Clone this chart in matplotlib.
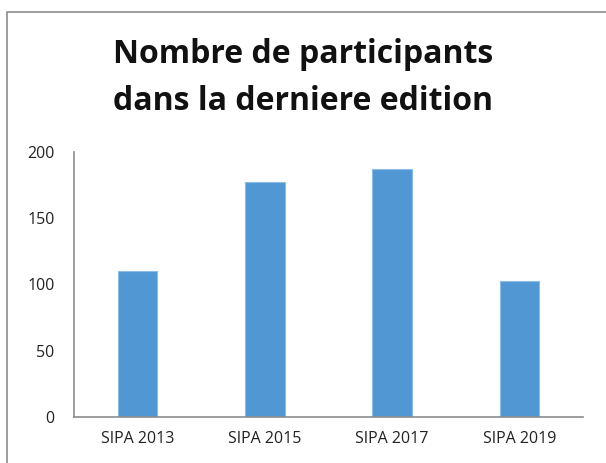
import numpy as np
import matplotlib.pyplot as plt
from matplotlib.patches import Rectangle

editions = ['SIPA 2013', 'SIPA 2015', 'SIPA 2017', 'SIPA 2019']
participants = [110, 177, 187, 103]
yticks = [0, 50, 100, 150, 200]

plt.rcParams['font.family'] = ['Open Sans', 'DejaVu Sans']

fig = plt.figure(figsize=(6.06, 4.63), dpi=100)
ax = fig.add_axes([74/606, 1-417/463, 509/606, 265/463])

x = np.arange(len(editions))
ax.bar(x, participants, width=0.31, color='#5097d3', edgecolor='#8dbde6', linewidth=0.8)
ax.set_xlim(-0.5, len(editions) - 0.5)
ax.set_ylim(0, 200)
ax.set_yticks(yticks)
ax.set_xticks(x)
ax.set_xticklabels(editions)
ax.tick_params(length=0, labelsize=11.5, colors='#222222')
ax.tick_params(axis='x', pad=10)
ax.tick_params(axis='y', pad=14)
for s in ['top', 'right']:
    ax.spines[s].set_visible(False)
for s in ['left', 'bottom']:
    ax.spines[s].set_color('#8c8c8c')
    ax.spines[s].set_linewidth(1.2)

fig.text(0.5, 1-78/463, 'Nombre de participants\ndans la derniere edition',
         ha='center', va='center', fontsize=23, fontweight='bold',
         linespacing=1.55, color='#111111')

fig.patches.append(Rectangle((7/606, -0.1), 1.2, 1 - 12/463 + 0.1,
                             transform=fig.transFigure, fill=False,
                             edgecolor='#8c8c8c', linewidth=1.2))

fig.savefig('out.png', dpi=100)
